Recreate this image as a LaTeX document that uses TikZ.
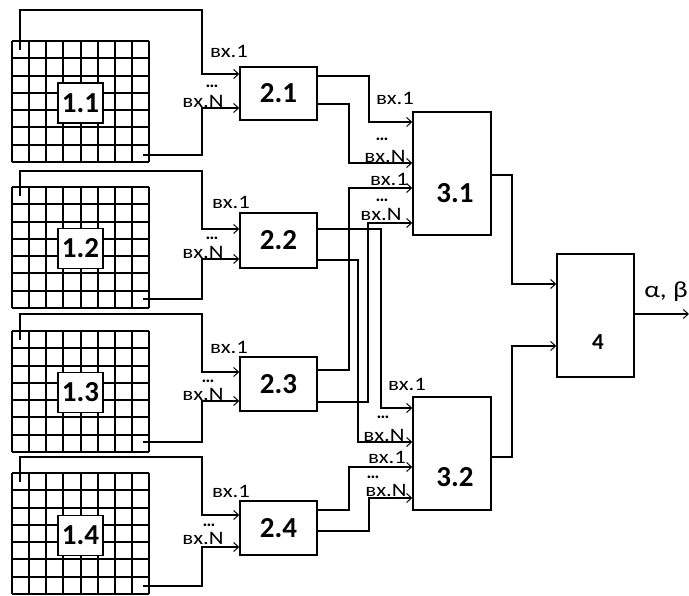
\documentclass[tikz,border=0pt]{standalone}
\usepackage{fontspec}
\setmainfont{Carlito}
\newfontfamily\labfont[FakeStretch=1.2]{Carlito}
\usetikzlibrary{arrows.meta,calc}
\begin{document}
\begin{tikzpicture}[x=1pt,y=-1pt,
  wire/.style={line width=1.7pt},
  arr/.style={wire,-{Straight Barb[length=5pt,width=9pt,line width=1pt]}},
  gridline/.style={line width=1.2pt},
  blk/.style={draw,line width=1.4pt,fill=white,inner sep=0pt,font=\bfseries\fontsize{29}{29}\selectfont},
  lab/.style={inner sep=0pt,text height=12pt,text depth=0pt,font=\labfont\fontsize{19}{19}\selectfont},
  dots/.style={inner sep=0pt,text height=3pt,text depth=0pt,font=\bfseries\fontsize{18}{18}\selectfont},
  blab/.style={inner sep=0pt,font=\bfseries\fontsize{29}{29}\selectfont},
]
\useasboundingbox (0,0) rectangle (689,596);

% grids
\foreach \T in {41,187,331,473}{
  \foreach \i in {0,...,8} \draw[gridline] ({12+round(\i*137/8)},\T) -- ++(0,121);
  \foreach \j in {0,...,7} \draw[gridline] (12,{\T+round(\j*121/7)}) -- ++(137,0);
}

% level 1 boxes
\node[blk,minimum width=45pt,minimum height=40pt] (b11) at (80.5,103) {1.1};
\node[blk,minimum width=45pt,minimum height=40pt] (b12) at (80.5,248.5) {1.2};
\node[blk,minimum width=45pt,minimum height=40pt] (b13) at (80.5,392.5) {1.3};
\node[blk,minimum width=45pt,minimum height=40pt] (b14) at (80.5,535.5) {1.4};

% level 2 boxes
\node[blk,minimum width=77pt,minimum height=53pt] (b21) at (278.5,93.5) {2.1};
\node[blk,minimum width=77pt,minimum height=55pt] (b22) at (278.5,240.5) {2.2};
\node[blk,minimum width=77pt,minimum height=54pt] (b23) at (278.5,384) {2.3};
\node[blk,minimum width=77pt,minimum height=54pt] (b24) at (278.5,528) {2.4};

% level 3 and 4 boxes
\node[blk,minimum width=78pt,minimum height=123pt] (b31) at (452,173.5) {};
\node[blab] (t31) at (455,193) {3.1};
\node[blk,minimum width=78pt,minimum height=113pt] (b32) at (452,453.5) {};
\node[blab] (t32) at (455,477) {3.2};
\node[blk,minimum width=77pt,minimum height=123pt] (b4) at (595.5,315.5) {};
\node[blab,font=\bfseries\fontsize{23}{23}\selectfont] (t4) at (598,342) {4};

% grid taps
\coordinate (s1) at (20,50);   \coordinate (e1) at (143,155);
\coordinate (s2) at (20,196);  \coordinate (e2) at (143,299);
\coordinate (s3) at (20,340);  \coordinate (e3) at (143,442);
\coordinate (s4) at (20,482);  \coordinate (e4) at (143,586);

% grid -> level 2
\draw[arr] (s1) -- (20,10) -| (202,74) -- (b21.west |- 0,74);
\draw[arr] (e1) -| (202,108) -- (b21.west |- 0,108);
\draw[arr] (s2) -- (20,171) -| (202,229) -- (b22.west |- 0,229);
\draw[arr] (e2) -| (202,259) -- (b22.west |- 0,259);
\draw[arr] (s3) -- (20,314) -| (202,372) -- (b23.west |- 0,372);
\draw[arr] (e3) -| (202,401) -- (b23.west |- 0,401);
\draw[arr] (s4) -- (20,457) -| (202,515) -- (b24.west |- 0,515);
\draw[arr] (e4) -| (202,547) -- (b24.west |- 0,547);

% level 2 -> level 3
\draw[arr] (b21.east |- 0,76) -| (369,122) -- (b31.west |- 0,122);
\draw[arr] (b21.east |- 0,104) -| (349,163) -- (b31.west |- 0,163);
\draw[arr] (b22.east |- 0,229) -| (381,408) -- (b32.west |- 0,408);
\draw[arr] (b22.east |- 0,260) -| (358,442) -- (b32.west |- 0,442);
\draw[arr] (b23.east |- 0,370) -| (349,188) -- (b31.west |- 0,188);
\draw[arr] (b23.east |- 0,402) -| (368,223) -- (b31.west |- 0,223);
\draw[arr] (b24.east |- 0,510) -| (349,467) -- (b32.west |- 0,467);
\draw[arr] (b24.east |- 0,531) -| (369,498) -- (b32.west |- 0,498);

% level 3 -> 4
\draw[arr] (b31.east |- 0,175) -| (512,284) -- (b4.west |- 0,284);
\draw[arr] (b32.east |- 0,457) -| (512,346) -- (b4.west |- 0,346);
\coordinate (out) at (689,314);
\draw[arr] (b4.east |- 0,314) -- (out);
\node[inner sep=0pt,font=\labfont\fontsize{23}{23}\selectfont] (ab) at (666,292) {α, β};

% input labels
\foreach \n/\x/\y/\t in {a1/229/52/вх.1, a3/203/102/вх.N,
  b1/231/203/вх.1, b3/203/253/вх.N,
  c1/229/348/вх.1, c3/203/395/вх.N,
  d1/231/491/вх.1, d3/203/538/вх.N,
  e1/395/99/вх.1, e3/385/157/вх.N, e4/389/180/вх.1, e6/381/215/вх.N,
  f1/407/385/вх.1, f3/384/436/вх.N, f4/387/458/вх.1, f6/386/490/вх.N}
  \node[lab] (l\n) at (\x,\y) {\t};
\foreach \n/\x/\y in {a2/212/86, b2/212/238, c2/208/381, d2/209/525,
  e2/382/139, e5/382/200, f2/383/417, f5/373/477}
  \node[dots] (l\n) at (\x,\y) {…};
\end{tikzpicture}
\end{document}
